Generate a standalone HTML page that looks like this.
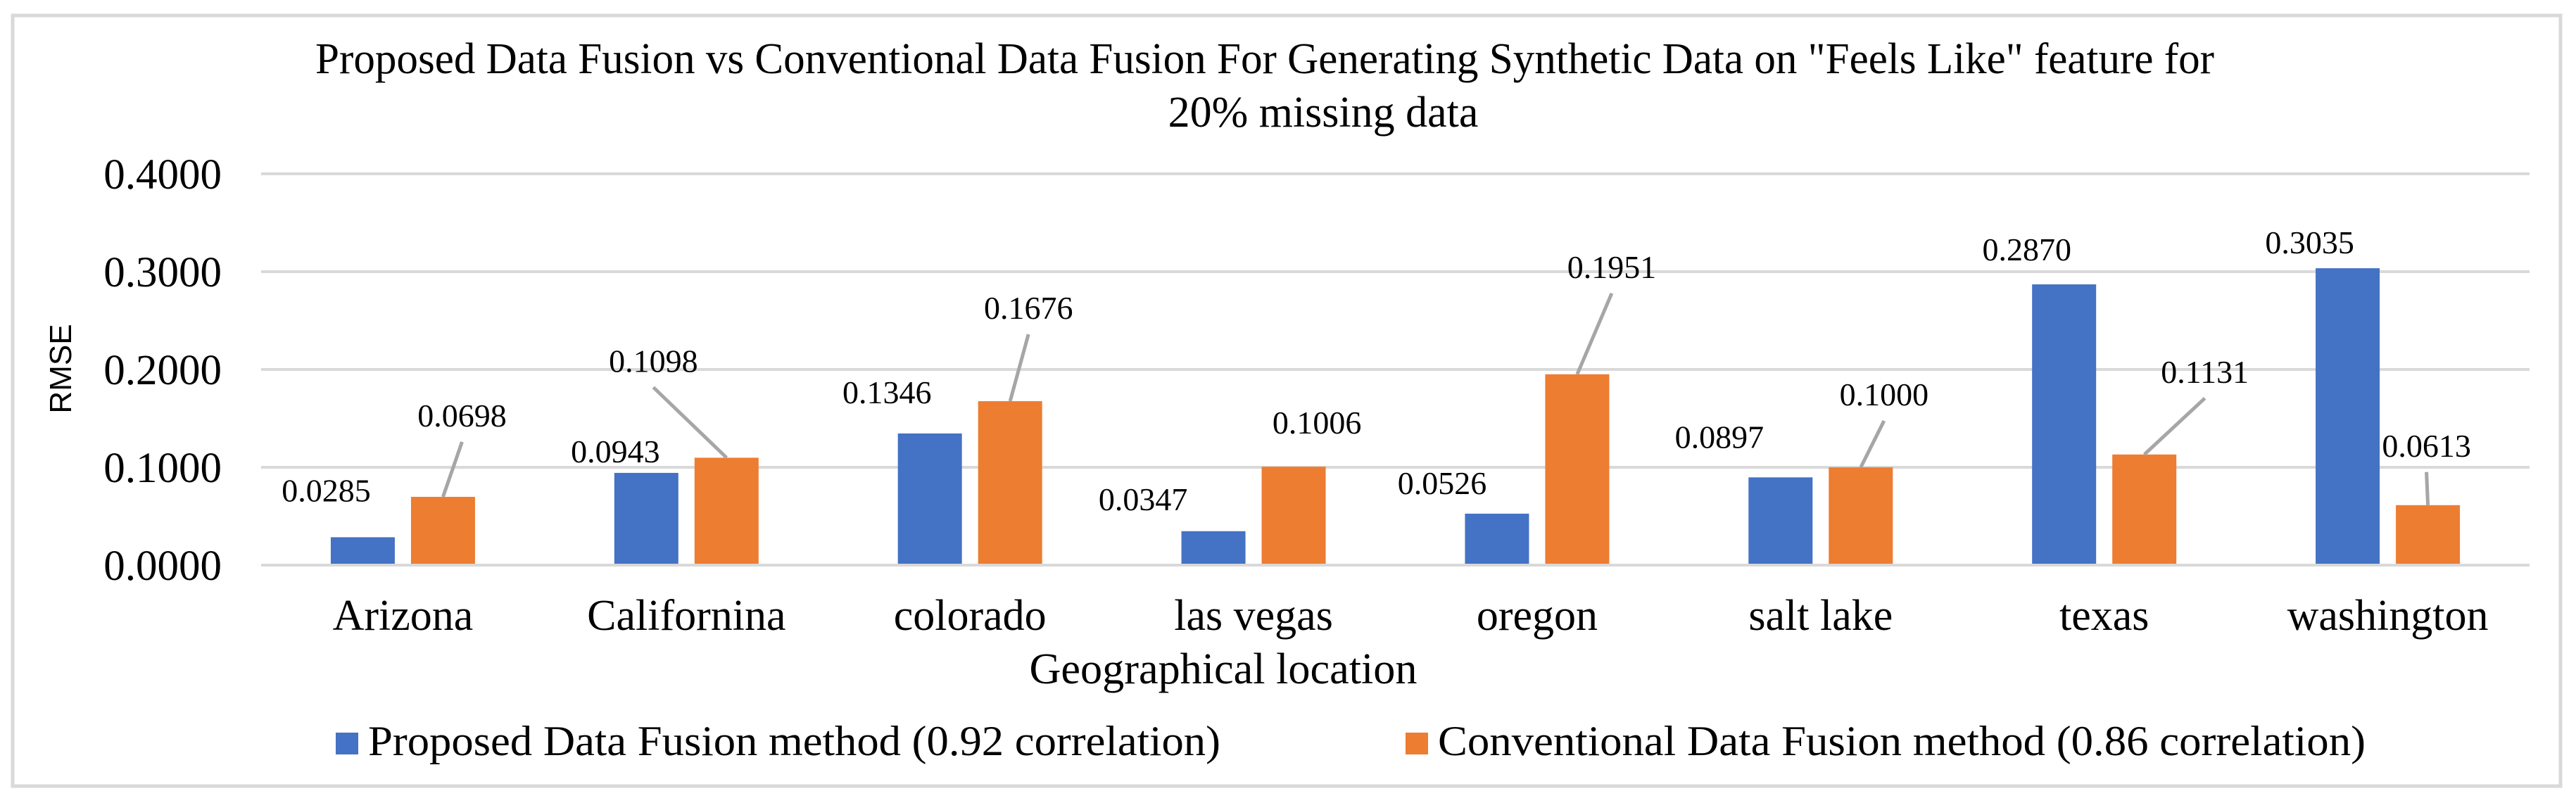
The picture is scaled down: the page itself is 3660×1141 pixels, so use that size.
<!DOCTYPE html>
<html><head><meta charset="utf-8"><style>
html,body{margin:0;padding:0;background:#fff;}
svg{display:block;}
text{font-family:"Liberation Serif",serif;fill:#000;}
</style></head><body>
<svg id="chart" width="3660" height="1141" viewBox="0 0 3660 1141" xmlns="http://www.w3.org/2000/svg">
<rect x="18" y="22" width="3620" height="1095" fill="#fff" stroke="#d9d9d9" stroke-width="5"/>
<text x="1797" y="104" font-size="62" text-anchor="middle" textLength="2698" lengthAdjust="spacingAndGlyphs">Proposed Data Fusion vs Conventional Data Fusion For Generating Synthetic Data on "Feels Like" feature for</text>
<text x="1880" y="180" font-size="62" text-anchor="middle">20% missing data</text>
<text x="0" y="0" font-size="44" text-anchor="middle" style="font-family:'Liberation Sans',sans-serif" transform="translate(101,524) rotate(-90)">RMSE</text>
<g id="grid"></g><g id="bars"></g><g id="labels"></g>
<text x="1738" y="971" font-size="62" text-anchor="middle" textLength="551" lengthAdjust="spacingAndGlyphs">Geographical location</text>
<rect x="477" y="1041" width="32" height="31" fill="#4472c4"/>
<text x="523" y="1073" font-size="60" textLength="1211" lengthAdjust="spacingAndGlyphs">Proposed Data Fusion method (0.92 correlation)</text>
<rect x="1997" y="1041" width="32" height="31" fill="#ed7d31"/>
<text x="2043" y="1073" font-size="60" textLength="1318" lengthAdjust="spacingAndGlyphs">Conventional Data Fusion method (0.86 correlation)</text>
</svg>
<script>
const categories = ["Arizona","Californina","colorado","las vegas","oregon","salt lake","texas","washington"];
const proposedValues = [0.0285,0.0943,0.1346,0.0347,0.0526,0.0897,0.2870,0.3035];
const conventionalValues = [0.0698,0.1098,0.1676,0.1006,0.1951,0.1000,0.1131,0.0613];
const yTicks = [0,0.1,0.2,0.3,0.4];
const yTickLabels = ["0.0000","0.1000","0.2000","0.3000","0.4000"];
// label layout offsets (px, relative to bar top-centre) - layout only
const blueOff = [[-52,-51],[-44,-15],[-61,-43],[-100,-30],[-78,-28],[-87,-42],[-53,-34],[-54,-21]];
const orangeOff = [[27,-100],[-104,-122],[26,-117],[33,-47],[49,-137],[33,-88],[86,-102],[-2,-69]];
const orangeLeader = [1,1,1,0,1,1,1,1];

const NS="http://www.w3.org/2000/svg";
const plotL=371, plotR=3594, y0=803, y4=247;
const yScale=v=>y0-(v-0)/(0.4)*(y0-y4);
const band=(plotR-plotL)/categories.length;
const xCenter=i=>plotL+band*(i+0.5);
const barW=91, barOff=57;
function mk(tag,attrs,parent){const e=document.createElementNS(NS,tag);for(const k in attrs)e.setAttribute(k,attrs[k]);parent.appendChild(e);return e;}
const grid=document.getElementById('grid'), bars=document.getElementById('bars'), labels=document.getElementById('labels');
yTicks.forEach((t,i)=>{
  const y=yScale(t);
  const l=mk('line',{x1:plotL,x2:plotR,y1:y,y2:y,stroke:'#d9d9d9','stroke-width':4},grid);
  
  
  const tx=mk('text',{x:315,y:y+21,'font-size':61,'text-anchor':'end'},grid);
  tx.textContent=yTickLabels[i];
  
  
});
categories.forEach((c,i)=>{
  const cx=xCenter(i);
  const ct=mk('text',{x:cx,y:895,'font-size':62,'text-anchor':'middle'},labels);
  ct.textContent=c;
  
  
  [[proposedValues,-barOff,'#4472c4',blueOff,null],[conventionalValues,barOff,'#ed7d31',orangeOff,orangeLeader]].forEach(([vals,off,col,lo,ld])=>{
    const bx=cx+off, top=yScale(vals[i]);
    const r=mk('rect',{x:bx-barW/2,y:top,width:barW,height:y0-2-top,fill:col},bars);
    
    
    const lx=bx+lo[i][0], ly=top+lo[i][1];
    if(ld&&ld[i]){
      const ln=mk('line',{x1:bx,y1:top,x2:lx,y2:ly+22,stroke:'#a6a6a6','stroke-width':5},labels);
      
      
    }
    const t=mk('text',{x:lx,y:ly,'font-size':46,'text-anchor':'middle'},labels);
    t.textContent=vals[i].toFixed(4);
    
    
  });
});
</script>
</body></html>
